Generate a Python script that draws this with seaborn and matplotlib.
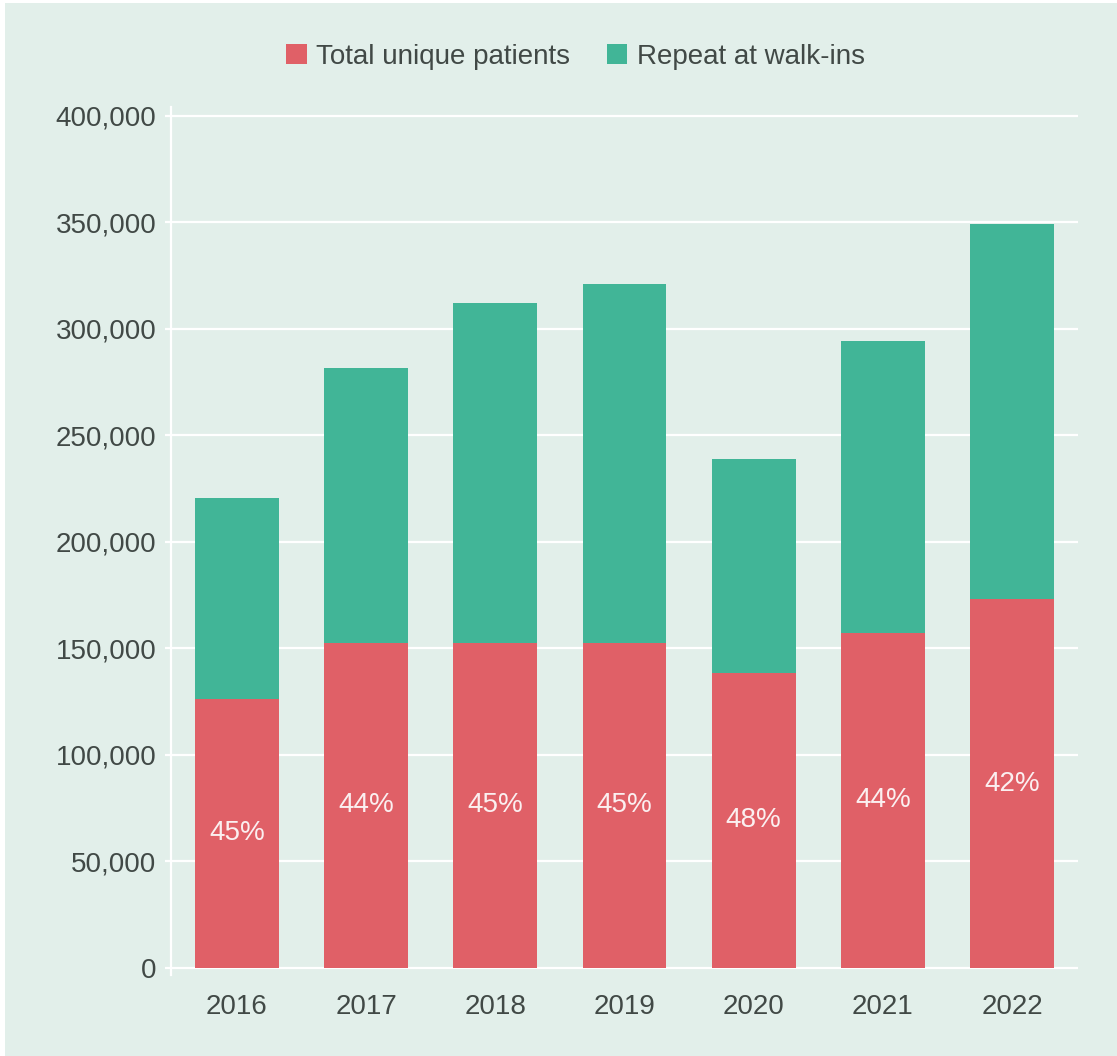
import matplotlib
matplotlib.use("Agg")
import matplotlib.pyplot as plt
from matplotlib.patches import Patch, Rectangle
import seaborn as sns
import pandas as pd

years = ["2016", "2017", "2018", "2019", "2020", "2021", "2022"]
unique_patients = [126300, 152600, 152600, 152600, 138500, 157300, 173200]
repeat_walkins = [94400, 129100, 159600, 168500, 100500, 137100, 176100]
share_labels = ["45%", "44%", "45%", "45%", "48%", "44%", "42%"]

RED = "#e06067"
GREEN = "#41b597"
BG = "#e2efea"
TEXT = "#414946"

sns.set_theme(style="white")
plt.rcParams["font.family"] = ["Liberation Sans", "DejaVu Sans"]

df = pd.DataFrame({
    "year": years,
    "unique": unique_patients,
    "total": [u + r for u, r in zip(unique_patients, repeat_walkins)],
})

W, H = 1117, 1056
fig = plt.figure(figsize=(W / 100, H / 100), dpi=100, facecolor=BG)
# thin white frame strips along the top and left edges
fig.patches.append(Rectangle((0, 0), 5 / W, 1, transform=fig.transFigure,
                             facecolor="white", edgecolor="none", linewidth=0))
fig.patches.append(Rectangle((0, 1 - 3 / H), 1, 3 / H, transform=fig.transFigure,
                             facecolor="white", edgecolor="none", linewidth=0))

ax = fig.add_axes([171 / W, 1 - 975 / H, (1078 - 171) / W, (975 - 107) / H])
ax.set_facecolor(BG)
ax.patch.set_alpha(0)

# stacked bars: full height in green, unique part in red on top of it
sns.barplot(data=df, x="year", y="total", color=GREEN, width=0.65,
            saturation=1, linewidth=0, edgecolor="none", ax=ax, zorder=2)
sns.barplot(data=df, x="year", y="unique", color=RED, width=0.65,
            saturation=1, linewidth=0, edgecolor="none", ax=ax, zorder=3)

for i, (u, lab) in enumerate(zip(unique_patients, share_labels)):
    ax.text(i, u / 2, lab, ha="center", va="center", color="#fbeff0",
            fontsize=20, zorder=4)

ax.set_xlim(-0.51, 6.51)
ax.set_ylim(-3300, 404200)
ax.set_yticks(range(0, 400001, 50000))
ax.set_yticklabels([f"{v:,}" for v in range(0, 400001, 50000)])
ax.set_xlabel("")
ax.set_ylabel("")

ax.grid(axis="y", color="white", linewidth=1.6, zorder=0)
ax.grid(axis="x", visible=False)
ax.set_axisbelow(True)
for side in ["top", "right", "bottom"]:
    ax.spines[side].set_visible(False)
ax.spines["left"].set_color("white")
ax.spines["left"].set_linewidth(1.6)

ax.tick_params(axis="y", length=4, width=1.6, color="white", pad=6.5,
               labelsize=20, labelcolor=TEXT, left=True)
ax.tick_params(axis="x", length=0, pad=14, labelsize=20, labelcolor=TEXT)

handles = [Patch(facecolor=RED, edgecolor="none", label="Total unique patients"),
           Patch(facecolor=GREEN, edgecolor="none", label="Repeat at walk-ins")]
leg = fig.legend(handles=handles, loc="center", ncol=2,
                 bbox_to_anchor=(575.5 / W, 1 - 57 / H), frameon=False,
                 fontsize=20, handlelength=0.75, handleheight=0.75,
                 handletextpad=0.35, columnspacing=1.3)
for t in leg.get_texts():
    t.set_color(TEXT)

fig.savefig("out.png", dpi=100, facecolor=fig.get_facecolor())
